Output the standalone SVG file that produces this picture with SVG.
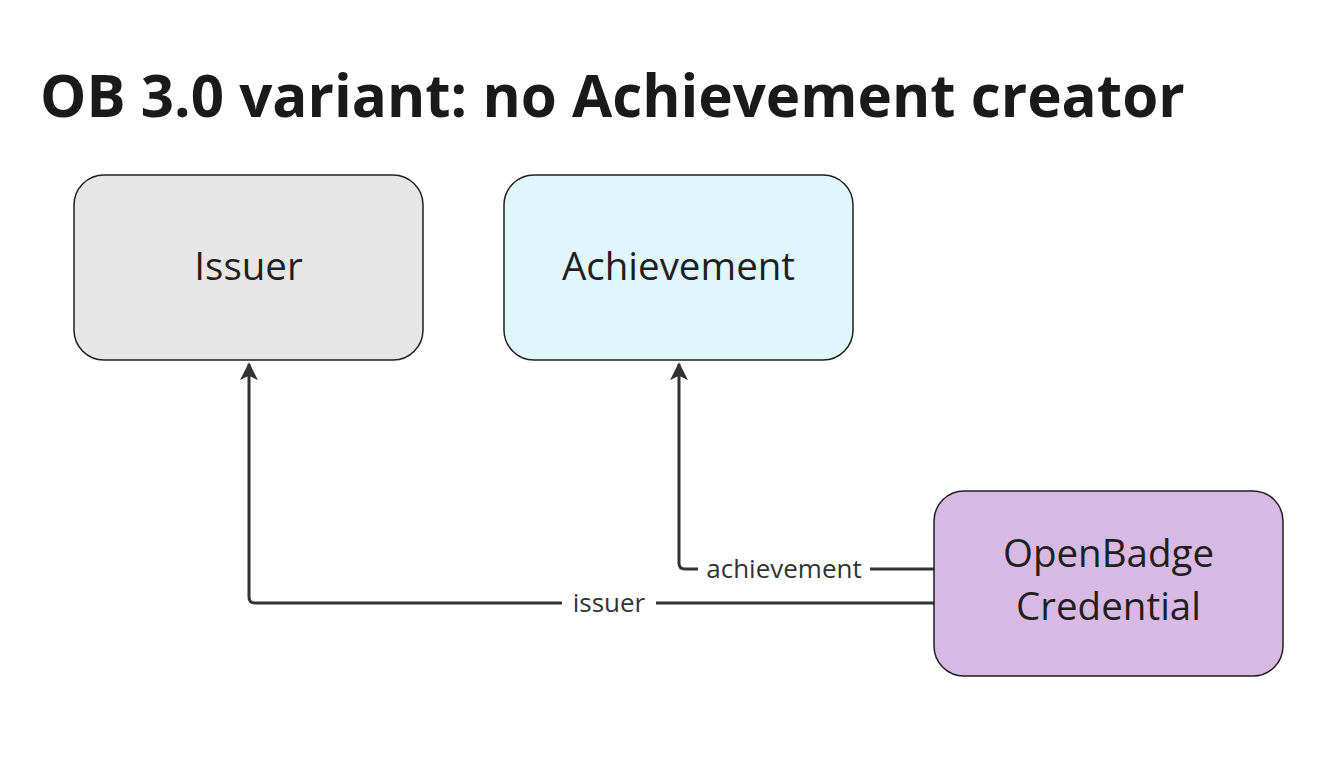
<svg xmlns="http://www.w3.org/2000/svg" width="1320" height="757" viewBox="0 0 1320 757">
<style>
.node{stroke:#1f1f1f;stroke-width:1.5}
.nt{font-family:"Open Sans","Noto Sans",sans-serif;font-size:38.5px;fill:#1f1f1f;text-anchor:middle}
.edge{fill:none;stroke:#333;stroke-width:3;stroke-linejoin:round}
.lbl{font-family:"Open Sans","Noto Sans",sans-serif;font-size:26px;fill:#333;text-anchor:middle}
.title{font-family:"Open Sans","Noto Sans",sans-serif;font-size:58.3px;font-weight:bold;fill:#1a1a1a}
</style>
<defs>
<marker id="arr" viewBox="0 0 10 10" refX="9" refY="5" markerWidth="6" markerHeight="6" markerUnits="strokeWidth" orient="auto">
<path d="M0,0 L10,5 L0,10 L2.5,5 Z" fill="#333"/>
</marker>
</defs>
<rect width="1320" height="757" fill="#fff"/>
<text class="title" x="40" y="117">OB 3.0 variant: no Achievement creator</text>
<g id="connectors">
<g id="edge-issuer">
<path class="edge" d="M934,603 L255,603 Q249,603 249,597 L249,364" marker-end="url(#arr)"/>
<rect x="562" y="588" width="94" height="30" fill="#fff"/>
<text class="lbl" x="609" y="612">issuer</text>
</g>
<g id="edge-achievement">
<path class="edge" d="M934,569 L685,569 Q679,569 679,563 L679,364" marker-end="url(#arr)"/>
<rect x="698" y="554" width="172" height="30" fill="#fff"/>
<text class="lbl" x="784" y="578">achievement</text>
</g>
</g>
<g id="node-issuer">
<rect class="node" x="74" y="175" width="349" height="185" rx="30" fill="#e6e6e6"/>
<text class="nt" x="248.5" y="280">Issuer</text>
</g>
<g id="node-achievement">
<rect class="node" x="504" y="175" width="349" height="185" rx="30" fill="#dff6fd"/>
<text class="nt" x="678.5" y="280">Achievement</text>
</g>
<g id="node-credential">
<rect class="node" x="934" y="491" width="349" height="185" rx="30" fill="#d7b9e3"/>
<text class="nt" x="1108.5" y="567">OpenBadge</text>
<text class="nt" x="1108.5" y="620">Credential</text>
</g>
</svg>
